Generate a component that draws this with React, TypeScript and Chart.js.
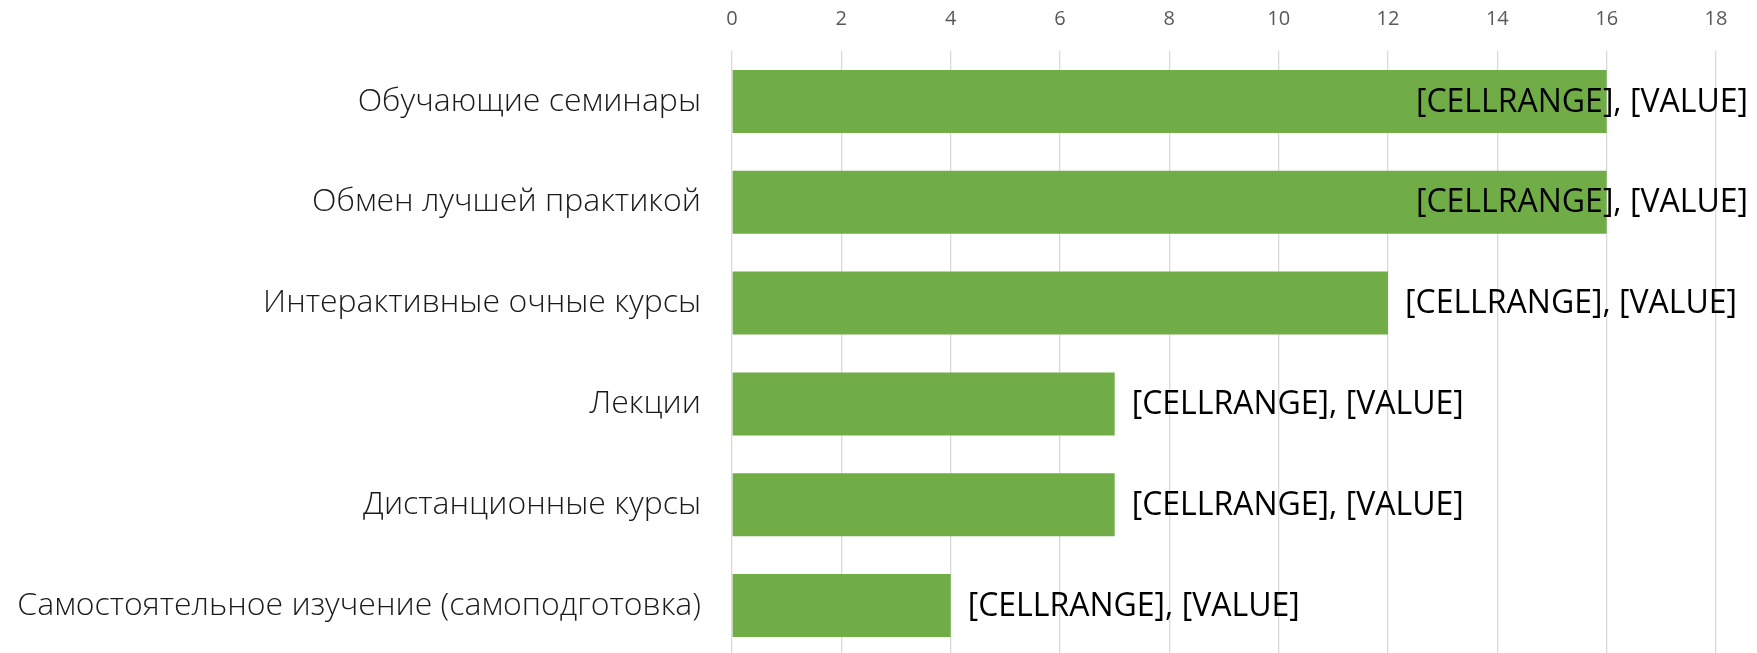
import React, { useEffect, useRef } from "react";
import { Chart, registerables } from "chart.js";

Chart.register(...registerables);

const categories = [
  "Обучающие семинары",
  "Обмен лучшей практикой",
  "Интерактивные очные курсы",
  "Лекции",
  "Дистанционные курсы",
  "Самостоятельное изучение (самоподготовка)",
];
const values = [16, 16, 12, 7, 7, 4];
const dataLabels = [
  "[CELLRANGE], [VALUE]",
  "[CELLRANGE], [VALUE]",
  "[CELLRANGE], [VALUE]",
  "[CELLRANGE], [VALUE]",
  "[CELLRANGE], [VALUE]",
  "[CELLRANGE], [VALUE]",
];
const axisMin = 0;
const axisMax = 18;
const axisStep = 2;

const FONT = '"Open Sans", "Noto Sans", sans-serif';

const labelPlugin = {
  id: "barLabels",
  afterDatasetsDraw(chart: any) {
    const ctx = chart.ctx;
    const meta = chart.getDatasetMeta(0);
    ctx.save();
    ctx.font = `32px ${FONT}`;
    ctx.fillStyle = "#000000";
    ctx.textBaseline = "middle";
    ctx.textAlign = "left";
    const maxRight = chart.width - 9;
    meta.data.forEach((bar: any, i: number) => {
      const text = dataLabels[i];
      const w = ctx.measureText(text).width;
      let x = bar.x + 17;
      if (x + w > maxRight) x = maxRight - w;
      ctx.fillText(text, x, bar.y + 1);
    });
    ctx.restore();
  },
};

export default function App() {
  const ref = useRef<HTMLCanvasElement>(null);
  useEffect(() => {
    if (!ref.current) return;
    const chart = new Chart(ref.current, {
      type: "bar",
      data: {
        labels: categories,
        datasets: [
          {
            data: values,
            backgroundColor: "#70AD47",
            borderWidth: 0,
            barPercentage: 0.625,
            categoryPercentage: 1,
          },
        ],
      },
      options: {
        indexAxis: "y",
        animation: false,
        responsive: true,
        maintainAspectRatio: false,
        layout: { padding: { top: 7, right: 41, bottom: 0, left: 0 } },
        plugins: {
          legend: { display: false },
          tooltip: { enabled: false },
          title: { display: false },
        },
        scales: {
          x: {
            position: "top",
            min: axisMin,
            max: axisMax,
            ticks: {
              stepSize: axisStep,
              color: "#595959",
              font: { family: FONT, size: 20 },
              padding: 20,
            },
            grid: { color: "#D9D9D9", lineWidth: 1.3, drawTicks: false },
            border: { display: false },
            afterFit: (scale: any) => {
              scale.height = 44;
            },
          },
          y: {
            ticks: {
              color: "#1a1a1a",
              font: { family: FONT, size: 32, weight: "300" },
              padding: 31,
            },
            grid: { display: false, drawTicks: false },
            border: { display: false },
            afterFit: (scale: any) => {
              scale.width = 732;
              scale.paddingTop = 0;
              scale.paddingBottom = 0;
            },
          },
        },
      },
      plugins: [labelPlugin],
    });
    return () => chart.destroy();
  }, []);
  return (
    <div style={{ position: "fixed", left: 0, top: 0, width: "1757px", height: "656px", background: "#fff" }}>
      <canvas ref={ref} />
    </div>
  );
}
